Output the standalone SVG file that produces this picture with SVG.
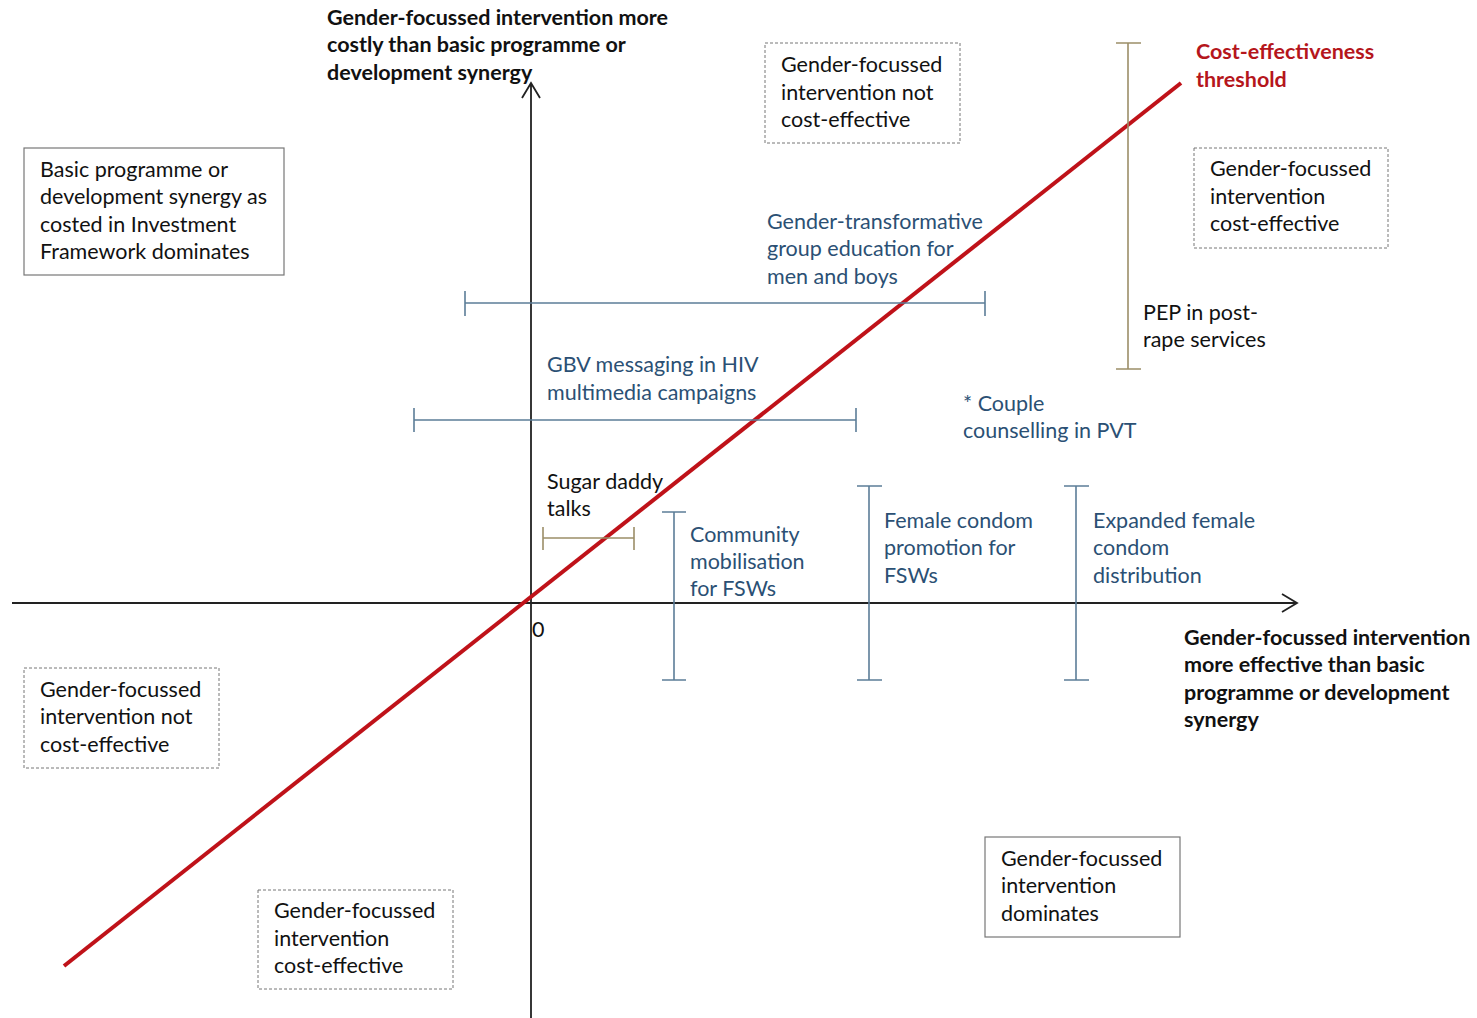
<svg xmlns="http://www.w3.org/2000/svg" width="1477" height="1018" viewBox="0 0 1477 1018">
<style>
text{font-family:Lato,"Liberation Sans",sans-serif;font-size:21.5px;fill:#111}
.b{font-weight:bold}
.blue{fill:#2b5074}
.red{fill:#b5161c;font-weight:bold}
.dash{fill:#fff;stroke:#777;stroke-width:1;stroke-dasharray:3 2}
.solid{fill:#fff;stroke:#777;stroke-width:1.2}
.axis{stroke:#222;stroke-width:1.8;fill:none}
.bbar{stroke:#5c7d98;stroke-width:1.6;fill:none}
.tbar{stroke:#9c8e68;stroke-width:1.6;fill:none}
</style>
<rect width="1477" height="1018" fill="#fff"/>
<g id="connectors">
<path class="axis" d="M531 1018 V83 M522 98 L531 83 L540 98"/>
<path class="axis" d="M12 603 H1297 M1282 594 L1297 603 L1282 612"/>
<path d="M64 966 L1181 83" stroke="#bf1219" stroke-width="4" fill="none"/>
<path class="tbar" d="M1128 43 V369 M1116 43 H1141 M1116 369 H1141"/>
<path class="bbar" d="M465 303 H985 M465 291 V316 M985 291 V316"/>
<path class="bbar" d="M414 420 H856 M414 408 V432 M856 408 V432"/>
<path class="tbar" d="M543 538 H634 M543 527 V550 M634 527 V550"/>
<path class="bbar" d="M674 512 V680 M662 512 H686 M662 680 H686"/>
<path class="bbar" d="M869 486 V680 M857 486 H882 M857 680 H882"/>
<path class="bbar" d="M1076 486 V680 M1064 486 H1089 M1064 680 H1089"/>
</g>
<g id="y-axis-label"><text class="b" x="327" y="25">Gender-focussed intervention more</text><text class="b" x="327" y="52">costly than basic programme or</text><text class="b" x="327" y="80">development synergy</text></g>
<g id="x-axis-label"><text class="b" x="1184" y="645">Gender-focussed intervention</text><text class="b" x="1184" y="672">more effective than basic</text><text class="b" x="1184" y="700">programme or development</text><text class="b" x="1184" y="727">synergy</text></g>
<g id="origin"><text x="532" y="637">0</text></g>
<g id="threshold"><text class="red" x="1196" y="59">Cost-effectiveness</text><text class="red" x="1196" y="87">threshold</text></g>
<g id="box-top"><rect class="dash" x="765" y="43" width="195" height="100"/><text x="781" y="72">Gender-focussed</text><text x="781" y="100">intervention not</text><text x="781" y="127">cost-effective</text></g>
<g id="box-right"><rect class="dash" x="1194" y="148" width="194" height="100"/><text x="1210" y="176">Gender-focussed</text><text x="1210" y="204">intervention</text><text x="1210" y="231">cost-effective</text></g>
<g id="box-left"><rect class="solid" x="24" y="148" width="260" height="127"/><text x="40" y="177">Basic programme or</text><text x="40" y="204">development synergy as</text><text x="40" y="232">costed in Investment</text><text x="40" y="259">Framework dominates</text></g>
<g id="box-lower-left"><rect class="dash" x="24" y="668" width="195" height="100"/><text x="40" y="697">Gender-focussed</text><text x="40" y="724">intervention not</text><text x="40" y="752">cost-effective</text></g>
<g id="box-bottom"><rect class="dash" x="258" y="890" width="195" height="99"/><text x="274" y="918">Gender-focussed</text><text x="274" y="946">intervention</text><text x="274" y="973">cost-effective</text></g>
<g id="box-bottom-right"><rect class="solid" x="985" y="837" width="195" height="100"/><text x="1001" y="866">Gender-focussed</text><text x="1001" y="893">intervention</text><text x="1001" y="921">dominates</text></g>
<g id="pep"><text x="1143" y="320">PEP in post-</text><text x="1143" y="347">rape services</text></g>
<g id="gender-transformative"><text class="blue" x="767" y="229">Gender-transformative</text><text class="blue" x="767" y="256">group education for</text><text class="blue" x="767" y="284">men and boys</text></g>
<g id="gbv"><text class="blue" x="547" y="372">GBV messaging in HIV</text><text class="blue" x="547" y="400">multimedia campaigns</text></g>
<g id="couple"><text class="blue" x="963" y="411">* Couple</text><text class="blue" x="963" y="438">counselling in PVT</text></g>
<g id="sugar"><text x="547" y="489">Sugar daddy</text><text x="547" y="516">talks</text></g>
<g id="community"><text class="blue" x="690" y="542">Community</text><text class="blue" x="690" y="569">mobilisation</text><text class="blue" x="690" y="596">for FSWs</text></g>
<g id="female-condom"><text class="blue" x="884" y="528">Female condom</text><text class="blue" x="884" y="555">promotion for</text><text class="blue" x="884" y="583">FSWs</text></g>
<g id="expanded"><text class="blue" x="1093" y="528">Expanded female</text><text class="blue" x="1093" y="555">condom</text><text class="blue" x="1093" y="583">distribution</text></g>
</svg>
